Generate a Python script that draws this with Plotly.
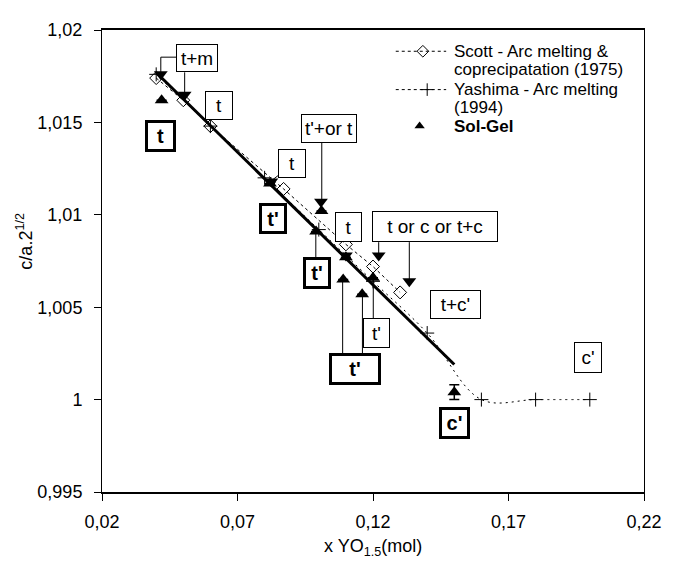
import plotly.graph_objects as go

# ---------------- data ----------------
scott_x = [0.04, 0.05, 0.06, 0.087, 0.11, 0.12, 0.13]
scott_y = [1.0174, 1.0162, 1.0148, 1.0114, 1.0084, 1.0072, 1.0058]

yashima_x = [0.04, 0.06, 0.08, 0.10, 0.12, 0.14, 0.16, 0.18, 0.20]
yashima_y = [1.0176, 1.0148, 1.0120, 1.0092, 1.0064, 1.0036, 1.0000, 1.0000, 1.0000]

solgel_x = [0.042, 0.082, 0.099, 0.101, 0.109, 0.110, 0.116, 0.120, 0.150]
solgel_y = [1.0162, 1.0117, 1.0091, 1.0102, 1.0065, 1.0077, 1.0057, 1.0066, 1.0004]
solgel_err = [0, 0, 0, 0, 0, 0, 0, 0, 0.0004]

fit_x = [0.04, 0.15]
fit_y = [1.0177, 1.0019]

# annotation arrowheads (down triangles)
arrow_x = [0.0417, 0.0505, 0.0825, 0.1008, 0.1100, 0.1221, 0.1334]
arrow_y = [1.0176, 1.0165, 1.0118, 1.0107, 1.0078, 1.0078, 1.0064]

# phase labels
label_text = ["t+m", "t", "t", "t'+or t", "t", "t'", "t", "t'", "t or c or t+c",
              "t'", "t'", "t+c'", "c'", "c'"]
label_bold = [0, 0, 1, 0, 0, 1, 0, 1, 0, 0, 1, 0, 1, 0]
label_x = [0.0550, 0.0632, 0.0417, 0.1038, 0.0901, 0.0832, 0.1111, 0.0995, 0.1429,
           0.1213, 0.1133, 0.1503, 0.1501, 0.1993]
label_y = [1.01846, 1.01592, 1.01428, 1.01468, 1.01276, 1.00978, 1.00935, 1.00684,
           1.00935, 1.00358, 1.00167, 1.00514, 0.99871, 1.00226]
label_w = [42, 28, 31, 56, 28, 28, 27, 28, 126, 27, 52, 51, 31, 28]
label_h = [28, 29, 32, 29, 29, 31, 30, 32, 31, 30, 32, 29, 32, 31]

# connector segments from labels to points
conn_x0 = [0.0475, 0.0417, 0.0505, 0.1011, 0.0989, 0.1221, 0.1334, 0.1201, 0.1088, 0.1161, 0.0862]
conn_y0 = [1.01853, 1.01853, 1.01771, 1.01391, 1.00767, 1.00852, 1.00852, 1.00437, 1.00252, 1.00252, 1.01226]
conn_x1 = [0.0417, 0.0417, 0.0505, 0.1011, 0.0989, 0.1221, 0.1334, 0.1201, 0.1088, 0.1161, 0.0830]
conn_y1 = [1.01853, 1.0176, 1.0165, 1.0106, 1.0091, 1.0078, 1.0064, 1.0066, 1.0065, 1.0057, 1.0119]

x_tickvals = [0.02, 0.07, 0.12, 0.17, 0.22]
x_ticktext = ["0,02", "0,07", "0,12", "0,17", "0,22"]
y_tickvals = [0.995, 1.0, 1.005, 1.01, 1.015, 1.02]
y_ticktext = ["0,995", "1", "1,005", "1,01", "1,015", "1,02"]

legend_names = ["Scott - Arc melting &<br>coprecipatation (1975)",
                "Yashima - Arc melting<br>(1994)", "<b>Sol-Gel</b>"]

FONT = "Liberation Sans, Arial, sans-serif"

fig = go.Figure()

fig.add_trace(go.Scatter(x=fit_x, y=fit_y, mode="lines",
                         line=dict(color="black", width=3), showlegend=False,
                         hoverinfo="skip"))
fig.add_trace(go.Scatter(x=yashima_x, y=yashima_y, mode="lines+markers",
                         line=dict(color="black", width=1, dash="2px,4px", shape="spline", smoothing=1),
                         marker=dict(symbol="cross-thin-open", size=10, color="black",
                                     line=dict(color="black", width=1)),
                         showlegend=False))
fig.add_trace(go.Scatter(x=scott_x, y=scott_y, mode="lines+markers",
                         line=dict(color="black", width=1, dash="dot"),
                         marker=dict(symbol="diamond-open", size=10, color="black",
                                     line=dict(color="black", width=1)),
                         showlegend=False))
fig.add_trace(go.Scatter(x=solgel_x, y=solgel_y, mode="markers",
                         marker=dict(symbol="triangle-up", size=12, color="black"),
                         error_y=dict(type="data", array=solgel_err, visible=True,
                                      color="black", thickness=1.5, width=5),
                         showlegend=False))
fig.add_trace(go.Scatter(x=arrow_x, y=arrow_y, mode="markers",
                         marker=dict(symbol="triangle-down", size=12, color="black"),
                         showlegend=False, hoverinfo="skip"))

# connectors
for x0, y0, x1, y1 in zip(conn_x0, conn_y0, conn_x1, conn_y1):
    fig.add_shape(type="line", xref="x", yref="y", x0=x0, y0=y0, x1=x1, y1=y1,
                  line=dict(color="black", width=1), layer="below")

# labels
for t, b, lx, ly, w, h in zip(label_text, label_bold, label_x, label_y, label_w, label_h):
    bw = 3 if b else 1
    fig.add_annotation(x=lx, y=ly, xref="x", yref="y", showarrow=False,
                       text=f"<b>{t}</b>" if b else t,
                       font=dict(family=FONT, size=19 if not b else 20, color="black"),
                       bordercolor="black", borderwidth=bw, borderpad=0,
                       bgcolor="white", width=w - 2 * bw, height=h - 2 * bw,
                       xanchor="center", yanchor="middle", align="center", valign="middle")

# manual legend (in plot-fraction coordinates via overlay axes)
leg_sym_y = [0.954, 0.871, 0.792]
for i, sy in enumerate(leg_sym_y[:2]):
    fig.add_trace(go.Scatter(x=[0.542, 0.592, 0.635], y=[sy, sy, sy], xaxis="x2", yaxis="y2",
                             mode="lines", line=dict(color="black", width=1, dash="dot"),
                             showlegend=False, hoverinfo="skip"))
fig.add_trace(go.Scatter(x=[0.592], y=[leg_sym_y[0]], xaxis="x2", yaxis="y2", mode="markers",
                         marker=dict(symbol="diamond-open", size=9, color="black",
                                     line=dict(color="black", width=1)),
                         showlegend=False, hoverinfo="skip"))
fig.add_trace(go.Scatter(x=[0.600], y=[leg_sym_y[1]], xaxis="x2", yaxis="y2", mode="markers",
                         marker=dict(symbol="cross-thin-open", size=9, color="black",
                                     line=dict(color="black", width=1)),
                         showlegend=False, hoverinfo="skip"))
fig.add_trace(go.Scatter(x=[0.586], y=[leg_sym_y[2]], xaxis="x2", yaxis="y2", mode="markers",
                         marker=dict(symbol="triangle-up", size=9, color="black"),
                         showlegend=False, hoverinfo="skip"))
leg_lines = legend_names[0].split("<br>") + legend_names[1].split("<br>") + [legend_names[2]]
leg_line_y = [0.954, 0.915, 0.871, 0.833, 0.792]
for txt, ty in zip(leg_lines, leg_line_y):
    fig.add_annotation(x=0.646, y=ty, xref="paper", yref="paper", text=txt, showarrow=False,
                       xanchor="left", yanchor="middle",
                       font=dict(family=FONT, size=17, color="black"))

# axis titles
fig.add_annotation(x=-0.142, y=0.542, xref="paper", yref="paper", showarrow=False,
                   text="c/a.2<sup>1/2</sup>", textangle=-90,
                   font=dict(family=FONT, size=18, color="black"),
                   xanchor="center", yanchor="middle")
fig.add_annotation(x=0.5, y=-0.121, xref="paper", yref="paper", showarrow=False,
                   text="x YO<sub>1.5</sub>(mol)",
                   font=dict(family=FONT, size=18, color="black"),
                   xanchor="center", yanchor="middle")

# page body has an 8px margin: shift the figure so the plot area lands at x 102-653, y 20-492
fig.update_layout(
    width=666, height=557,
    margin=dict(l=94, r=21, t=12, b=73),
    paper_bgcolor="white", plot_bgcolor="white",
    font=dict(family=FONT, size=18, color="black"),
    showlegend=False,
    xaxis=dict(range=[0.02, 0.22], tickvals=x_tickvals, ticktext=x_ticktext,
               showgrid=False, zeroline=False, showline=True, linecolor="black",
               linewidth=1.5, mirror=True, ticks="outside", ticklen=7, tickwidth=1,
               tickcolor="black", ticklabelstandoff=6,
               tickfont=dict(family=FONT, size=18, color="black")),
    yaxis=dict(range=[0.995, 1.02], tickvals=y_tickvals, ticktext=y_ticktext,
               showgrid=False, zeroline=False, showline=True, linecolor="black",
               linewidth=1, mirror=True, ticks="outside", ticklen=7, tickwidth=1,
               tickcolor="black", ticklabelstandoff=8,
               tickfont=dict(family=FONT, size=18, color="black")),
    xaxis2=dict(range=[0, 1], overlaying="x", visible=False),
    yaxis2=dict(range=[0, 1], overlaying="y", visible=False),
)

fig.write_html("out.html")
